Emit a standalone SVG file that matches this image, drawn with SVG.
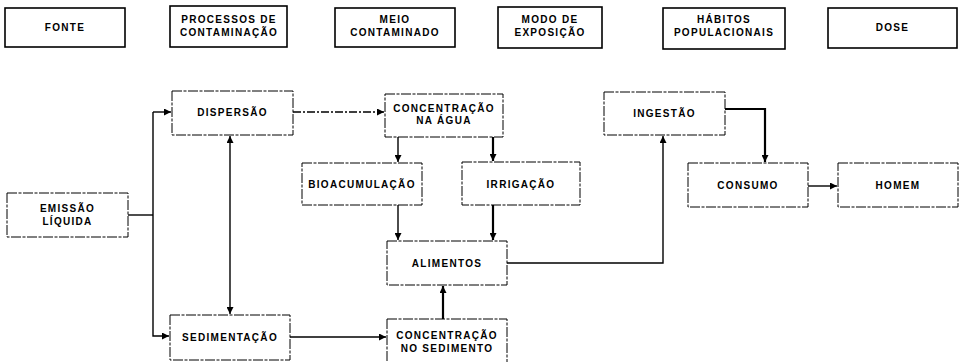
<svg xmlns="http://www.w3.org/2000/svg" width="963" height="362" viewBox="0 0 963 362">
<defs>
<marker id="ah" viewBox="0 0 10 10" refX="10" refY="5" markerWidth="7" markerHeight="7" markerUnits="userSpaceOnUse" orient="auto-start-reverse">
<path d="M0,0 L10,5 L0,10 z" fill="#000"/>
</marker>
<style>
.top rect{fill:#fff;stroke:#000;stroke-width:1.6}
.n rect{fill:#fff;stroke:#000;stroke-width:1;stroke-dasharray:10 1.5 3 1.5}
text{font-family:"Liberation Sans",Arial,sans-serif;font-size:10px;font-weight:bold;letter-spacing:1.3px;text-anchor:middle;fill:#000}
.c path,.c line{fill:none;stroke:#000;stroke-width:1.4}
.thick{stroke-width:2.2 !important}
</style>
</defs>
<rect width="963" height="362" fill="#fff"/>
<g class="top">
<g id="h-fonte"><rect x="5" y="8" width="120" height="39"/><text x="65" y="31">FONTE</text></g>
<g id="h-processos"><rect x="170" y="6" width="117" height="41"/><text x="229" y="23">PROCESSOS DE</text><text x="229" y="36">CONTAMINAÇÃO</text></g>
<g id="h-meio"><rect x="335" y="8" width="120" height="39"/><text x="395" y="23">MEIO</text><text x="395" y="36">CONTAMINADO</text></g>
<g id="h-modo"><rect x="498" y="7" width="104" height="41"/><text x="550" y="23">MODO DE</text><text x="550" y="36">EXPOSIÇÃO</text></g>
<g id="h-habitos"><rect x="663" y="8" width="122" height="41"/><text x="724" y="23">HÁBITOS</text><text x="724" y="36">POPULACIONAIS</text></g>
<g id="h-dose"><rect x="828" y="8" width="129" height="40"/><text x="892.5" y="31">DOSE</text></g>
</g>
<g class="n">
<g id="emissao"><rect x="7" y="193" width="121" height="44"/><text x="67.5" y="212">EMISSÃO</text><text x="67.5" y="225">LÍQUIDA</text></g>
<g id="dispersao"><rect x="172" y="91" width="121" height="44"/><text x="232.5" y="116">DISPERSÃO</text></g>
<g id="sedimentacao"><rect x="170" y="315" width="120" height="45"/><text x="230" y="341">SEDIMENTAÇÃO</text></g>
<g id="conc-agua"><rect x="385" y="94" width="118" height="43"/><text x="444" y="112">CONCENTRAÇÃO</text><text x="444" y="124">NA ÁGUA</text></g>
<g id="bioacumulacao"><rect x="302" y="163" width="120" height="42"/><text x="362" y="188">BIOACUMULAÇÃO</text></g>
<g id="irrigacao"><rect x="462" y="162" width="118" height="43"/><text x="521" y="188">IRRIGAÇÃO</text></g>
<g id="alimentos"><rect x="387" y="241" width="120" height="44"/><text x="447" y="267">ALIMENTOS</text></g>
<g id="conc-sedimento"><rect x="387" y="319" width="120" height="45"/><text x="447" y="339">CONCENTRAÇÃO</text><text x="447" y="352">NO SEDIMENTO</text></g>
<g id="ingestao"><rect x="604" y="92" width="121" height="43"/><text x="664.5" y="117">INGESTÃO</text></g>
<g id="consumo"><rect x="688" y="163" width="120" height="44"/><text x="748" y="189">CONSUMO</text></g>
<g id="homem"><rect x="838" y="163" width="120" height="44"/><text x="898" y="189">HOMEM</text></g>
</g>
<g class="c">
<path d="M128,215 H153"/>
<path d="M153,112 H171" marker-end="url(#ah)"/>
<path d="M153,112 V336 H169" marker-end="url(#ah)"/>
<line x1="230" y1="136" x2="230" y2="314" marker-start="url(#ah)" marker-end="url(#ah)"/>
<line x1="293" y1="112" x2="384" y2="112" stroke-dasharray="8 2 2 2" marker-end="url(#ah)"/>
<line x1="398" y1="137" x2="398" y2="162" marker-end="url(#ah)"/>
<line x1="493" y1="137" x2="493" y2="161" class="thick" marker-end="url(#ah)"/>
<line x1="398" y1="205" x2="398" y2="240" marker-end="url(#ah)"/>
<line x1="493" y1="205" x2="493" y2="240" class="thick" marker-end="url(#ah)"/>
<line x1="290" y1="337" x2="386" y2="337" marker-end="url(#ah)"/>
<line x1="443" y1="319" x2="443" y2="286" class="thick" marker-end="url(#ah)"/>
<path d="M507,263 H663 V136" marker-end="url(#ah)"/>
<path d="M725,109 H765 V162" class="thick" marker-end="url(#ah)"/>
<line x1="808" y1="186" x2="837" y2="186" marker-end="url(#ah)"/>
</g>
</svg>
